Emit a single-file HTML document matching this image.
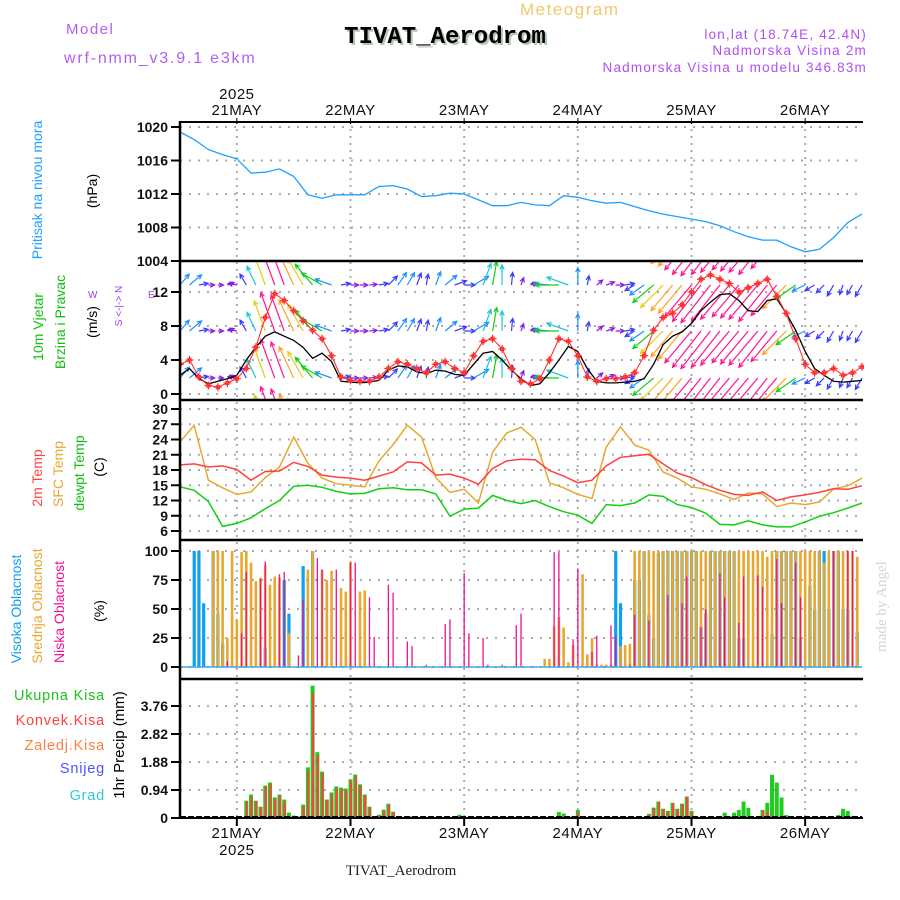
<!DOCTYPE html>
<html><head><meta charset="utf-8"><style>
html,body{margin:0;padding:0;background:#fff;}
svg{display:block;font-family:"Liberation Sans",sans-serif;}
</style></head><body>
<svg id="chart" width="900" height="900" viewBox="0 0 900 900" xmlns="http://www.w3.org/2000/svg">
<text x="66" y="34" font-size="15" fill="#b060f0" letter-spacing="1.5">Model</text>
<text x="64" y="63" font-size="16" fill="#b060f0" letter-spacing="1.8">wrf-nmm_v3.9.1 e3km</text>
<text x="447" y="45" font-size="24" font-weight="bold" text-anchor="middle" fill="#b0c8b0" font-family="Liberation Mono, monospace">TIVAT_Aerodrom</text>
<text x="445" y="43" font-size="24" font-weight="bold" text-anchor="middle" fill="#000" font-family="Liberation Mono, monospace">TIVAT_Aerodrom</text>
<text x="520" y="15" font-size="17" fill="#f0c870" letter-spacing="1.5">Meteogram</text>
<text x="867" y="39" font-size="13.5" fill="#b050f0" text-anchor="end" letter-spacing="1.2">lon,lat (18.74E, 42.4N)</text>
<text x="867" y="55" font-size="13.5" fill="#b050f0" text-anchor="end" letter-spacing="1.2">Nadmorska Visina 2m</text>
<text x="867" y="72" font-size="13.5" fill="#b050f0" text-anchor="end" letter-spacing="1.2">Nadmorska Visina u modelu 346.83m</text>
<text transform="translate(886,652) rotate(-90)" font-size="15" fill="#d0d8d0" font-family="Liberation Serif, serif">made by Angel</text>
<text x="401" y="875" font-size="15" fill="#222" text-anchor="middle" font-family="Liberation Serif, serif">TIVAT_Aerodrom</text>
<g id="g"></g>
</svg>
<script>
// ---------- data ----------
const dayLabels = ["21MAY","22MAY","23MAY","24MAY","25MAY","26MAY"];
const dayHours = [12,36,60,84,108,132];
const pressureTicks = [1004,1008,1012,1016,1020];
const windTicks = [0,4,8,12];
const tempTicks = [6,9,12,15,18,21,24,27,30];
const cloudTicks = [0,25,50,75,100];
const precipTicks = [0,0.94,1.88,2.82,3.76];
// 3-hourly from 20 May 12Z
const pressure = [1019.4,1018.5,1017.3,1016.7,1016.2,1014.5,1014.6,1015.0,1014.1,1011.9,1011.5,1011.9,1011.9,1011.9,1012.9,1013.0,1012.6,1011.7,1011.8,1012.1,1012.0,1011.3,1010.6,1010.6,1011.0,1010.7,1010.6,1011.8,1011.6,1011.2,1010.9,1011.0,1010.5,1010.0,1009.6,1009.3,1009.0,1008.7,1008.2,1007.5,1006.9,1006.5,1006.5,1005.7,1005.1,1005.4,1006.8,1008.6,1009.6];
const temp2m = [19.0,19.2,18.6,18.8,18.1,16.0,17.7,17.8,19.5,18.7,17.0,16.6,16.4,16.0,16.8,17.6,19.6,19.4,17.0,17.2,16.4,15.2,18.3,19.8,20.1,20.0,17.9,16.8,15.5,16.0,18.8,20.5,20.8,21.1,19.2,17.4,16.5,15.1,14.0,13.2,13.0,13.7,12.0,12.7,13.1,13.6,14.3,14.2,14.9];
const tempSfc = [23.5,26.8,16.0,14.5,13.2,13.7,16.5,18.6,24.5,19.3,16.4,15.3,15.0,14.7,19.8,23.0,26.8,24.5,16.5,13.6,14.2,11.5,21.5,25.3,26.4,24.0,15.5,14.5,13.2,12.4,22.5,26.5,22.9,21.9,17.6,16.4,14.7,14.2,13.3,12.2,13.5,13.3,10.8,11.5,11.2,11.7,14.3,14.9,16.4];
const tempDew = [14.7,14.0,11.8,6.9,7.5,8.6,10.4,12.0,14.8,15.0,14.6,13.8,13.3,13.4,14.3,14.5,14.1,14.1,13.3,8.9,10.3,10.5,13.0,12.0,11.4,12.0,10.8,9.8,9.1,7.5,11.2,11.0,11.5,13.1,12.8,11.2,10.6,9.5,7.3,7.2,8.0,7.2,6.8,6.8,7.8,8.9,9.6,10.5,11.5];
// 2-hourly wind
const windSpeed = [2.2,3.0,1.8,1.2,1.5,1.8,2.2,4.0,5.5,6.8,7.3,6.8,6.3,5.5,4.2,4.8,3.8,1.5,1.4,1.3,1.4,1.6,2.8,3.3,3.2,2.6,2.4,2.8,2.7,2.3,2.2,3.5,4.8,5.0,4.0,2.8,1.8,1.0,1.2,2.5,4.0,5.6,5.0,3.0,1.5,1.3,1.3,1.4,1.5,1.8,3.5,5.8,6.8,7.3,8.3,9.8,10.8,11.7,11.8,11.0,9.8,9.7,11.0,11.2,9.5,7.5,5.0,3.0,2.2,1.5,1.4,1.5,1.6];
const windGust = [3.5,4.0,2.0,1.0,0.8,1.3,1.8,3.0,5.5,9.0,11.8,11.0,9.8,8.6,7.5,6.5,4.5,2.0,1.6,1.5,1.5,2.0,3.0,3.8,3.5,3.0,2.5,3.5,3.8,3.0,2.5,4.5,6.2,6.5,5.3,3.0,1.5,1.2,1.8,4.0,6.5,6.2,4.5,2.0,1.5,1.8,1.8,2.0,2.5,4.5,7.5,9.0,9.5,10.5,12.0,13.5,14.0,13.5,13.0,12.0,12.5,13.0,13.5,11.5,9.5,6.5,3.5,2.5,2.5,3.0,2.2,2.5,3.2];
const windDir = [220,230,260,270,270,250,100,150,155,160,160,160,155,150,140,120,110,260,270,270,265,260,225,215,210,200,190,200,230,250,270,240,200,190,180,185,200,250,100,95,90,110,180,190,230,250,270,260,60,55,50,45,40,40,40,38,38,38,40,40,40,40,38,40,45,55,65,60,45,30,20,30,30];
// hourly clouds (h0..h143)
const cloudHigh = [0,0,0,100,100,55,0,100,46,20,0,0, 0,0,0,0,0,0,17,0,0,0,75,46, 0,0,87,0,100,0,0,0,0,0,0,0, 0,0,0,0,0,0,0,0,0,0,0,0, 0,0,0,0,0,0,0,0,0,0,0,0, 0,0,0,0,0,0,0,0,0,0,0,0, 0,0,0,0,0,0,0,0,0,0,0,0, 0,0,0,0,0,0,0,0,100,55,0,0, 75,75,100,45,25,98,100,100,100,100,100,100, 100,100,35,46,100,100,100,100,100,100,25,25, 0,0,0,0,0,28,100,100,100,100,100,25, 0,70,50,100,100,50,100,100,50,50,0,30];
const cloudMid = [0,0,0,0,0,0,0,100,100,100,25,100, 41,99,100,90,74,77,88,71,78,77,0,29, 0,0,0,84,100,0,84,75,83,0,68,65, 91,0,65,66,0,0,0,0,0,0,0,0, 0,0,0,0,0,0,0,0,0,0,0,0, 0,0,0,0,0,0,0,0,0,0,0,0, 0,0,0,0,0,7,7,35,43,34,4,19, 0,80,11,25,2,2,2,2,0,18,19,20, 100,100,100,100,100,100,100,100,100,100,100,100, 100,100,100,100,100,100,100,100,100,100,100,100, 100,100,100,100,95,100,100,100,100,100,100,100, 100,100,100,100,90,100,100,100,100,100,100,95];
const cloudLow = [0,0,0,0,0,0,0,0,0,0,5,0, 0,29,82,0,0,76,91,0,0,80,82,0, 0,10,58,0,0,94,84,0,0,84,0,0, 90,90,0,0,60,26,0,0,71,64,0,0, 22,18,0,0,2,0,0,0,37,41,0,0, 81,29,0,0,25,2,0,0,2,0,0,36, 46,0,0,0,0,0,0,99,99,0,0,24, 85,0,0,13,27,0,0,36,26,0,0,2, 45,0,0,40,0,0,0,62,0,0,55,78, 0,0,34,50,0,0,81,60,0,0,38,78, 0,0,79,69,0,0,93,55,0,0,90,60, 0,0,0,0,0,0,100,0,0,100,100,0];
// hourly precipitation (mm)
const precipTotal = [0,0,0,0,0,0,0,0,0,0,0,0, 0,0,0.58,0.79,0.58,0.38,1.09,1.19,0.69,0.79,0.62,0.18, 0.08,0.05,0.45,1.70,4.44,2.21,1.56,0.62,0.86,1.06,1.02,0.99, 1.30,1.46,1.13,0.79,0.38,0.02,0.11,0.28,0.48,0.21,0.02,0, 0,0.05,0,0,0,0,0,0,0,0,0,0.11, 0,0,0,0,0,0,0,0,0,0,0,0, 0,0,0,0,0,0,0,0,0.2,0.15,0,0.07, 0.27,0.05,0,0,0,0,0,0,0,0,0,0, 0.03,0,0.03,0.14,0.35,0.55,0.31,0.24,0.51,0.31,0.48,0.72, 0.24,0.07,0,0,0,0.03,0,0.18,0.07,0.18,0.27,0.55, 0.34,0,0.07,0.27,0.51,1.45,1.19,0.69,0.1,0,0,0, 0,0,0,0,0,0,0,0.1,0.31,0.24,0.07,0.03];
const precipConv = [0,0,0,0,0,0,0,0,0,0,0,0, 0,0,0.55,0.7,0.55,0.35,1.05,1.15,0.65,0.75,0.55,0.05, 0,0,0.4,1.6,4.2,2.1,1.5,0.6,0.8,1.0,0.95,0.95, 1.25,1.4,1.1,0.75,0.35,0.02,0.1,0.25,0.45,0.2,0,0, 0,0,0,0,0,0,0,0,0,0,0,0, 0,0,0,0,0,0,0,0,0,0,0,0, 0,0,0,0,0,0,0,0,0.03,0.05,0,0, 0.2,0.05,0,0,0,0,0,0,0,0,0,0, 0,0,0.02,0.12,0.33,0.55,0.3,0.23,0.5,0.3,0.47,0.72, 0.2,0,0,0,0,0,0,0,0,0,0,0.07, 0,0,0,0.27,0.2,0.07,0,0,0,0,0,0, 0,0,0,0,0,0,0,0,0,0,0,0];

// ---------- scales ----------
const X0=180, X1=862, HOURS=144;
function xh(h){return X0+h*(X1-X0)/HOURS;}
function yP(v){return 261-(v-1004)*8.375;}
function yW(v){return 394-v*8.5;}
function yT(v){return 531-(v-6)*5.083;}
function yC(v){return 667-v*1.16;}
function yR(v){return 818-v*29.79;}
const panels=[[122,261],[261,400],[400,540],[540,679],[679,818]];

const NS="http://www.w3.org/2000/svg";
const g=document.getElementById('g');
function mk(tag,attrs,parent){const e=document.createElementNS(NS,tag);for(const k in attrs)e.setAttribute(k,attrs[k]);(parent||g).appendChild(e);return e;}

const defs=mk('defs',{});
panels.forEach((p,i)=>{const c=mk('clipPath',{id:'clip'+i},defs);mk('rect',{x:X0,y:p[0],width:X1-X0+2,height:p[1]-p[0]},c);});

dayHours.forEach(h=>{
  const l=mk('line',{x1:xh(h),x2:xh(h),y1:122,y2:818,stroke:'#aaa','stroke-width':2,'stroke-dasharray':'2,5'});
  
  
});

function yAxis(ticks,yf,fmt,name){
  ticks.forEach(t=>{
    const y=yf(t);
    const gl=mk('line',{x1:X0,x2:X1,y1:y,y2:y,stroke:'#aaa','stroke-width':2,'stroke-dasharray':'2,7'});
    
    
    const tk=mk('line',{x1:171,x2:X0,y1:y,y2:y,stroke:'#000','stroke-width':2});
    
    
    const tx=mk('text',{x:168,y:y+5,'font-size':14,'font-weight':'bold','text-anchor':'end',fill:'#111'});
    tx.textContent=fmt(t);
    
    
  });
}
yAxis(pressureTicks,yP,String,'pressure');
yAxis(windTicks,yW,String,'wind');
yAxis(tempTicks,yT,String,'temp');
yAxis(cloudTicks,yC,String,'cloud');
yAxis(precipTicks,yR,t=>t===0?'0':t.toFixed(2),'precip');

function line(arr,step,yf,color,clip,name,w){
  const pts=arr.map((v,i)=>xh(i*step).toFixed(1)+','+yf(v).toFixed(1)).join(' ');
  const p=mk('polyline',{points:pts,fill:'none',stroke:color,'stroke-width':w||1.3,'clip-path':'url(#clip'+clip+')'});
  
  
  return p;
}
line(pressure,3,yP,'#1ea0ff',0,'pressure-line');

function windColor(s){if(s<2)return '#8a1ee0';if(s<3.5)return '#3a3aff';if(s<5)return '#1e90ff';if(s<6.5)return '#18c8d0';if(s<8)return '#10d010';if(s<9.5)return '#e0d010';if(s<11)return '#ffa020';return '#ff1493';}
const rows=[238,285,331,378,425];
const wg=mk('g',{'clip-path':'url(#clip1)'});
rows.forEach(ry=>{
  windDir.forEach((d,i)=>{
    const s=windGust[i], L=3.2*s+3, r=d*Math.PI/180;
    const x=xh(i*2), dx=-Math.sin(r)*L, dy=Math.cos(r)*L;
    const x2=x+dx, y2=ry+dy, a=Math.atan2(dy,dx);
    const c=windColor(s);
    const ar=mk('path',{d:`M${x},${ry}L${x2},${y2}M${x2-5*Math.cos(a-0.45)},${y2-5*Math.sin(a-0.45)}L${x2},${y2}L${x2-5*Math.cos(a+0.45)},${y2-5*Math.sin(a+0.45)}`,stroke:c,'stroke-width':1.2,fill:'none'},wg);
    
    
  });
});
line(windSpeed,2,yW,'#000',1,'wind-speed-line',1.3);
line(windGust,2,yW,'#ff3030',1,'wind-gust-line',1.1);
windGust.forEach((v,i)=>{
  const x=xh(i*2),y=yW(v);
  const m=mk('path',{d:`M${x-4},${y}H${x+4}M${x},${y-4}V${y+4}M${x-1.5},${y-1.5}h3v3h-3z`,stroke:'#ff3030','stroke-width':1.2,fill:'none','clip-path':'url(#clip1)'});
  
  
});

line(tempSfc,3,yT,'#e8a830',2,'sfc-temp-line',1.5);
line(temp2m,3,yT,'#ff4040',2,'2m-temp-line',1.5);
line(tempDew,3,yT,'#10d010',2,'dewpoint-line',1.5);

function bars(arr,yf,color,w,name,clip,off){
  arr.forEach((v,h)=>{
    if(v<=0)return;
    const y=yf(v),y0=yf(0);
    const b=mk('rect',{x:xh(h)-w/2+(off||0),y:y,width:w,height:y0-y,fill:color,'clip-path':'url(#clip'+clip+')'});
    
    
  });
}
bars(cloudHigh,yC,'#10a0f0',3.2,'high-cloud-bar',3);
bars(cloudMid,yC,'#e8a830',2.6,'mid-cloud-bar',3);
bars(cloudLow,yC,'#f01090',1.3,'low-cloud-bar',3);
const cb=mk('line',{x1:X0,x2:X1,y1:667,y2:667,stroke:'#40a8e8','stroke-width':1.5});



bars(precipTotal,yR,'#20cc20',4,'total-precip-bar',4);
bars(precipConv,yR,'#ff4040',2.2,'convective-precip-bar',4,0.5);
const pb=mk('line',{x1:X0,x2:X1,y1:817,y2:817,stroke:'#000','stroke-width':2,'stroke-dasharray':'6,2'});



panels.forEach((p,i)=>{
  const t=mk('line',{x1:X0-1,x2:X1+1,y1:p[0],y2:p[0],stroke:'#000','stroke-width':i===0?2:2.5});
  
  
});
const bl=mk('line',{x1:X0-1,x2:X1+1,y1:818,y2:818,stroke:'#000','stroke-width':2});


const la=mk('line',{x1:X0,x2:X0,y1:121,y2:819,stroke:'#000','stroke-width':2.5});


dayHours.forEach(h=>{
  const t1=mk('line',{x1:xh(h),x2:xh(h),y1:818,y2:826,stroke:'#000','stroke-width':2});
  
  
  const t2=mk('line',{x1:xh(h),x2:xh(h),y1:118,y2:124,stroke:'#000','stroke-width':1});
  
  
});

dayLabels.forEach((d,i)=>{
  const a=mk('text',{x:xh(dayHours[i]),y:115,'font-size':15,'text-anchor':'middle',fill:'#111','letter-spacing':0.5});
  a.textContent=d;
  
  
  const b=mk('text',{x:xh(dayHours[i]),y:838,'font-size':15,'text-anchor':'middle',fill:'#111','letter-spacing':0.5});
  b.textContent=d;
  
  
});
const yr1=mk('text',{x:xh(12),y:99,'font-size':15,'text-anchor':'middle',fill:'#111','letter-spacing':0.5});
yr1.textContent='2025';


const yr2=mk('text',{x:xh(12),y:855,'font-size':15,'text-anchor':'middle',fill:'#111','letter-spacing':0.5});
yr2.textContent='2025';



function vt(txt,x,y,color,name,size){
  const t=mk('text',{transform:`translate(${x},${y}) rotate(-90)`,'font-size':size||14,'text-anchor':'middle',fill:color});
  t.textContent=txt;
  
  
}
vt('Pritisak na nivou mora',42,190,'#1ea0ff','pressure-title');
vt('(hPa)',97,191,'#000','pressure-unit');
vt('10m Vjetar',43,327,'#10c010','wind-title');
vt('Brzina i Pravac',65,322,'#10c010','wind-subtitle');
vt('(m/s)',97,322,'#000','wind-unit');
vt('S <-|-> N',122,306,'#a040f0','wind-compass',10);
vt('2m Temp',42,478,'#ff4040','temp-2m-title');
vt('SFC Temp',63,474,'#e8a830','temp-sfc-title');
vt('dewpt Temp',84,473,'#10c010','temp-dew-title');
vt('(C)',104,467,'#000','temp-unit');
vt('Visoka Oblacnost',21,609,'#10a0f0','high-cloud-title');
vt('Srednja Oblacnost',42,606,'#e8a830','mid-cloud-title');
vt('Niska Oblacnost',64,612,'#f01090','low-cloud-title');
vt('(%)',104,611,'#000','cloud-unit');
vt('1hr Precip (mm)',124,745,'#000','precip-title',15);
const wl=mk('text',{x:88,y:298,'font-size':10,fill:'#a040f0'});
wl.textContent='W';


const el=mk('text',{x:148,y:298,'font-size':10,fill:'#a040f0'});
el.textContent='E';


const leg=[['Ukupna Kisa','#20c020',700],['Konvek.Kisa','#ff4040',725],['Zaledj.Kisa','#ff8040',750],['Snijeg','#5050ff',773],['Grad','#30c8d8',800]];
leg.forEach(l=>{
  const t=mk('text',{x:105,y:l[2],'font-size':14.5,'text-anchor':'end',fill:l[1],'letter-spacing':0.8});
  t.textContent=l[0];
  
  
});
</script>
</body></html>
